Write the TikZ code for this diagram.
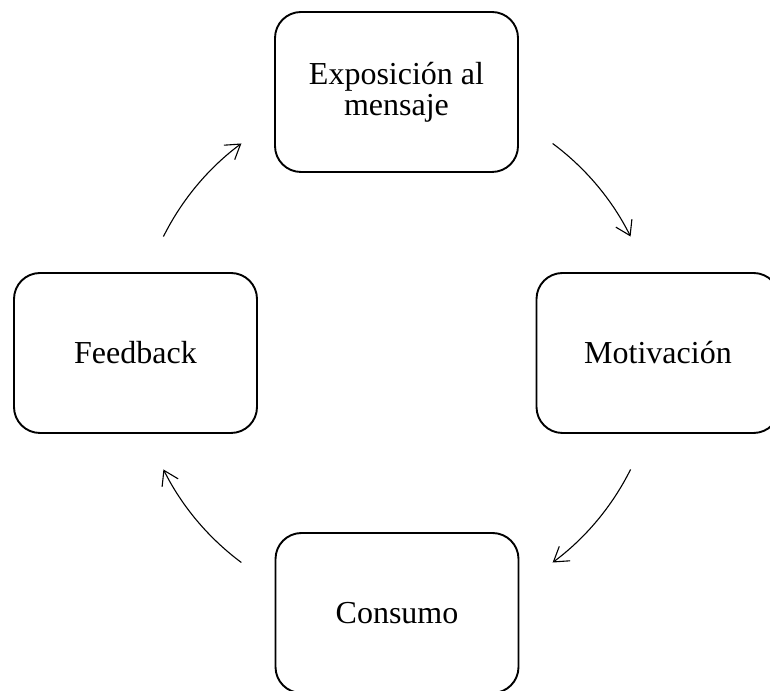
\documentclass[tikz,border=0pt]{standalone}
\usepackage{fontspec}
\setmainfont{Liberation Serif}
\usetikzlibrary{arrows.meta}
\begin{document}
\begin{tikzpicture}[x=1pt,y=1pt,
  stage/.style={draw, line width=1.9pt, rounded corners=26pt,
    minimum width=243pt, minimum height=160pt, inner sep=0pt,
    align=center, font=\fontsize{32}{31}\selectfont},
  flow/.style={line width=1.1pt, -{Straight Barb[length=14pt,width=18pt]}}]
\useasboundingbox (0,0) rectangle (770,690);
% cycle centre
\coordinate (c) at (397,337);
% stages around the cycle
\node[stage] (expo) at (396.5,598) {Exposición al\\mensaje};
\node[stage] (moti) at (658,337) {Motivación};
\node[stage] (cons) at (397,77) {Consumo};
\node[stage] (feed) at (135.5,337) {Feedback};
% curved arrows following the cycle
\draw[flow] ([shift={(53.4:261)}]c) arc[start angle=53.4, end angle=26.5, radius=261];
\draw[flow] ([shift={(-26.5:261)}]c) arc[start angle=-26.5, end angle=-53.4, radius=261];
\draw[flow] ([shift={(-126.6:261)}]c) arc[start angle=-126.6, end angle=-153.5, radius=261];
\draw[flow] ([shift={(153.5:261)}]c) arc[start angle=153.5, end angle=126.6, radius=261];
\end{tikzpicture}
\end{document}
